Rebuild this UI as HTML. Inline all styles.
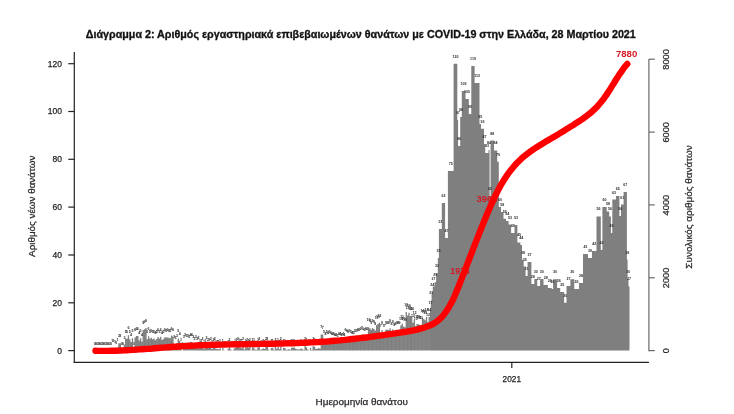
<!DOCTYPE html>
<html><head><meta charset="utf-8"><style>
html,body{margin:0;padding:0;background:#fff;}
svg{display:block;will-change:transform;}
text{font-family:'Liberation Sans', 'DejaVu Sans', sans-serif;}
</style></head><body>
<svg width="734" height="414" viewBox="0 0 734 414">
<rect width="734" height="414" fill="#fff"/>
<text x="85.8" y="37.6" font-weight="bold" font-size="10.3" fill="#111" stroke="#111" stroke-width="0.3" textLength="550" lengthAdjust="spacingAndGlyphs">Διάγραμμα 2: Αριθμός εργαστηριακά επιβεβαιωμένων θανάτων με COVID-19 στην Ελλάδα, 28 Μαρτίου 2021</text>
<path d="M430.80,350.6L430.80,300.4L431.60,300.4L431.60,292.2L432.80,292.2L432.80,286.4L434.50,286.4L434.50,282.3L436.10,282.3L436.10,273.3L437.80,273.3L437.80,258.0L438.90,258.0L438.90,229.0L441.80,229.0L441.80,203.0L445.10,203.0L445.10,238.0L447.90,238.0L447.90,171.0L453.60,171.0L453.60,63.7L457.30,63.7L457.30,120.0L458.10,120.0L458.10,146.0L460.20,146.0L460.20,117.0L461.80,117.0L461.80,91.0L465.50,91.0L465.50,99.0L468.80,99.0L468.80,114.0L471.30,114.0L471.30,66.0L474.60,66.0L474.60,83.0L479.50,83.0L479.50,124.0L481.00,124.0L481.00,128.7L484.00,128.7L484.00,144.0L485.20,144.0L485.20,153.0L488.50,153.0L488.50,150.0L489.60,150.0L489.60,196.0L490.60,196.0L490.60,140.6L494.00,140.6L494.00,150.4L497.20,150.4L497.20,161.8L498.80,161.8L498.80,207.0L501.00,207.0L501.00,212.0L503.50,212.0L503.50,218.7L506.00,218.7L506.00,221.0L508.60,221.0L508.60,224.6L511.10,224.6L511.10,233.0L514.50,233.0L514.50,225.0L517.40,225.0L517.40,242.4L520.40,242.4L520.40,245.0L522.00,245.0L522.00,259.8L523.70,259.8L523.70,266.5L525.60,266.5L525.60,276.0L527.60,276.0L527.60,262.0L531.40,262.0L531.40,284.0L534.30,284.0L534.30,279.0L537.20,279.0L537.20,286.0L540.10,286.0L540.10,279.0L543.50,279.0L543.50,285.0L547.90,285.0L547.90,288.0L551.70,288.0L551.70,289.0L553.10,289.0L553.10,279.2L557.10,279.2L557.10,288.0L560.20,288.0L560.20,292.0L564.10,292.0L564.10,302.8L566.50,302.8L566.50,286.0L570.40,286.0L570.40,279.2L574.30,279.2L574.30,289.0L579.00,289.0L579.00,283.0L583.00,283.0L583.00,254.0L588.00,254.0L588.00,258.0L592.00,258.0L592.00,251.0L596.50,251.0L596.50,216.4L600.80,216.4L600.80,250.0L602.40,250.0L602.40,207.1L606.70,207.1L606.70,211.4L609.20,211.4L609.20,216.4L610.90,216.4L610.90,233.0L612.30,233.0L612.30,199.5L616.00,199.5L616.00,196.1L619.40,196.1L619.40,216.0L621.00,216.0L621.00,204.6L623.60,204.6L623.60,191.9L626.90,191.9L626.90,259.6L627.60,259.6L627.60,279.0L628.50,279.0L628.50,286.4L629.50,286.4L629.50,350.6ZM111.56,350.6V348.04H112.87V350.6ZM112.91,350.6V348.26H114.22V350.6ZM114.25,350.6V348.47H115.56V350.6ZM115.60,350.6V349.76H116.91V350.6ZM116.95,350.6V347.27H118.26V350.6ZM118.30,350.6V343.15H119.61V350.6ZM119.65,350.6V343.31H120.96V350.6ZM123.70,350.6V344.50H125.01V350.6ZM125.05,350.6V338.61H126.36V350.6ZM126.40,350.6V338.81H127.71V350.6ZM127.74,350.6V335.14H129.05V350.6ZM129.09,350.6V339.24H130.40V350.6ZM130.44,350.6V341.99H131.75V350.6ZM131.79,350.6V338.21H133.10V350.6ZM134.49,350.6V337.40H135.80V350.6ZM135.84,350.6V336.07H137.15V350.6ZM137.19,350.6V336.04H138.50V350.6ZM138.54,350.6V340.44H139.85V350.6ZM139.89,350.6V338.28H141.19V350.6ZM141.24,350.6V341.55H142.54V350.6ZM142.58,350.6V330.00H143.89V350.6ZM143.93,350.6V329.15H145.24V350.6ZM145.28,350.6V328.05H146.59V350.6ZM146.63,350.6V339.26H147.94V350.6ZM147.98,350.6V336.20H149.29V350.6ZM149.33,350.6V338.73H150.64V350.6ZM150.68,350.6V337.87H151.99V350.6ZM152.03,350.6V339.31H153.34V350.6ZM153.38,350.6V338.57H154.68V350.6ZM154.72,350.6V340.18H156.03V350.6ZM156.07,350.6V338.92H157.38V350.6ZM157.42,350.6V336.93H158.73V350.6ZM158.77,350.6V338.61H160.08V350.6ZM160.12,350.6V336.83H161.43V350.6ZM161.47,350.6V339.95H162.78V350.6ZM162.82,350.6V339.02H164.13V350.6ZM164.17,350.6V337.18H165.48V350.6ZM165.52,350.6V337.55H166.83V350.6ZM166.87,350.6V337.41H168.17V350.6ZM168.22,350.6V337.77H169.52V350.6ZM169.56,350.6V338.14H170.87V350.6ZM170.91,350.6V335.54H172.22V350.6ZM172.26,350.6V336.59H173.57V350.6ZM173.61,350.6V344.26H174.92V350.6ZM174.96,350.6V344.52H176.27V350.6ZM176.31,350.6V343.08H177.62V350.6ZM177.66,350.6V338.42H178.97V350.6ZM179.01,350.6V340.76H180.32V350.6ZM180.36,350.6V347.31H181.66V350.6ZM183.05,350.6V343.93H184.36V350.6ZM184.40,350.6V342.44H185.71V350.6ZM185.75,350.6V343.04H187.06V350.6ZM187.10,350.6V342.74H188.41V350.6ZM188.45,350.6V343.84H189.76V350.6ZM189.80,350.6V341.65H191.11V350.6ZM191.15,350.6V341.93H192.46V350.6ZM192.50,350.6V344.38H193.81V350.6ZM193.85,350.6V345.72H195.15V350.6ZM195.20,350.6V344.26H196.50V350.6ZM196.54,350.6V345.75H197.85V350.6ZM197.89,350.6V345.24H199.20V350.6ZM199.24,350.6V348.26H200.55V350.6ZM200.59,350.6V347.79H201.90V350.6ZM201.94,350.6V346.11H203.25V350.6ZM203.29,350.6V349.05H204.60V350.6ZM204.64,350.6V347.62H205.95V350.6ZM205.99,350.6V345.33H207.30V350.6ZM207.34,350.6V346.78H208.64V350.6ZM208.69,350.6V347.33H209.99V350.6ZM210.03,350.6V346.39H211.34V350.6ZM211.38,350.6V349.08H212.69V350.6ZM212.73,350.6V346.91H214.04V350.6ZM214.08,350.6V346.26H215.39V350.6ZM215.43,350.6V348.84H216.74V350.6ZM216.78,350.6V348.96H218.09V350.6ZM218.13,350.6V349.16H219.44V350.6ZM219.48,350.6V348.17H220.79V350.6ZM222.18,350.6V347.89H223.48V350.6ZM223.52,350.6V350.19H224.83V350.6ZM224.87,350.6V350.43H226.18V350.6ZM227.57,350.6V348.48H228.88V350.6ZM228.92,350.6V346.91H230.23V350.6ZM230.27,350.6V349.50H231.58V350.6ZM232.97,350.6V349.56H234.28V350.6ZM234.32,350.6V347.63H235.62V350.6ZM235.67,350.6V347.17H236.97V350.6ZM237.01,350.6V346.38H238.32V350.6ZM238.36,350.6V347.05H239.67V350.6ZM239.71,350.6V347.86H241.02V350.6ZM241.06,350.6V348.16H242.37V350.6ZM242.41,350.6V346.21H243.72V350.6ZM243.76,350.6V349.50H245.07V350.6ZM245.11,350.6V347.49H246.42V350.6ZM246.46,350.6V346.87H247.77V350.6ZM247.81,350.6V347.81H249.11V350.6ZM249.16,350.6V346.74H250.46V350.6ZM250.50,350.6V350.27H251.81V350.6ZM251.85,350.6V347.17H253.16V350.6ZM253.20,350.6V347.41H254.51V350.6ZM254.55,350.6V349.52H255.86V350.6ZM255.90,350.6V349.67H257.21V350.6ZM257.25,350.6V347.38H258.56V350.6ZM258.60,350.6V346.29H259.91V350.6ZM259.95,350.6V349.77H261.26V350.6ZM261.30,350.6V349.24H262.61V350.6ZM262.64,350.6V348.15H263.95V350.6ZM263.99,350.6V349.12H265.30V350.6ZM265.34,350.6V346.36H266.65V350.6ZM266.69,350.6V346.06H268.00V350.6ZM268.04,350.6V349.58H269.35V350.6ZM270.74,350.6V347.91H272.05V350.6ZM272.09,350.6V347.85H273.40V350.6ZM273.44,350.6V350.07H274.75V350.6ZM274.79,350.6V346.47H276.09V350.6ZM276.13,350.6V348.66H277.44V350.6ZM277.48,350.6V347.06H278.79V350.6ZM278.83,350.6V349.16H280.14V350.6ZM280.18,350.6V346.44H281.49V350.6ZM281.53,350.6V350.18H282.84V350.6ZM282.88,350.6V347.77H284.19V350.6ZM284.23,350.6V347.96H285.54V350.6ZM285.58,350.6V349.79H286.89V350.6ZM286.93,350.6V349.86H288.24V350.6ZM288.28,350.6V348.94H289.58V350.6ZM289.62,350.6V349.79H290.93V350.6ZM290.97,350.6V347.66H292.28V350.6ZM292.32,350.6V347.60H293.63V350.6ZM293.67,350.6V347.54H294.98V350.6ZM295.02,350.6V348.82H296.33V350.6ZM296.37,350.6V349.23H297.68V350.6ZM297.72,350.6V349.62H299.03V350.6ZM299.07,350.6V349.21H300.38V350.6ZM300.42,350.6V348.43H301.73V350.6ZM301.77,350.6V349.08H303.07V350.6ZM303.12,350.6V350.03H304.42V350.6ZM304.46,350.6V346.02H305.77V350.6ZM305.81,350.6V347.24H307.12V350.6ZM307.16,350.6V349.54H308.47V350.6ZM309.86,350.6V348.05H311.17V350.6ZM311.21,350.6V349.88H312.52V350.6ZM312.56,350.6V346.13H313.87V350.6ZM313.91,350.6V346.77H315.22V350.6ZM315.26,350.6V348.89H316.56V350.6ZM316.61,350.6V348.65H317.91V350.6ZM317.95,350.6V347.89H319.26V350.6ZM319.30,350.6V348.81H320.61V350.6ZM320.65,350.6V334.39H321.96V350.6ZM322.00,350.6V334.46H323.31V350.6ZM323.35,350.6V339.35H324.66V350.6ZM324.70,350.6V341.22H326.01V350.6ZM326.05,350.6V339.15H327.36V350.6ZM327.40,350.6V340.29H328.71V350.6ZM328.75,350.6V338.96H330.06V350.6ZM330.09,350.6V339.92H331.40V350.6ZM331.44,350.6V340.49H332.75V350.6ZM332.79,350.6V341.25H334.10V350.6ZM334.14,350.6V342.11H335.45V350.6ZM335.49,350.6V341.75H336.80V350.6ZM336.84,350.6V342.53H338.15V350.6ZM338.19,350.6V340.92H339.50V350.6ZM339.54,350.6V340.78H340.85V350.6ZM340.89,350.6V341.56H342.20V350.6ZM342.24,350.6V341.02H343.55V350.6ZM343.58,350.6V341.64H344.89V350.6ZM344.93,350.6V337.14H346.24V350.6ZM346.28,350.6V337.46H347.59V350.6ZM347.63,350.6V338.66H348.94V350.6ZM348.98,350.6V337.69H350.29V350.6ZM350.33,350.6V339.22H351.64V350.6ZM351.68,350.6V340.12H352.99V350.6ZM353.03,350.6V339.70H354.34V350.6ZM354.38,350.6V338.03H355.69V350.6ZM355.73,350.6V338.37H357.04V350.6ZM357.07,350.6V337.39H358.38V350.6ZM358.42,350.6V337.16H359.73V350.6ZM359.77,350.6V335.79H361.08V350.6ZM361.12,350.6V334.69H362.43V350.6ZM362.47,350.6V335.66H363.78V350.6ZM363.82,350.6V336.47H365.13V350.6ZM365.17,350.6V336.39H366.48V350.6ZM366.52,350.6V336.33H367.83V350.6ZM367.87,350.6V327.27H369.18V350.6ZM369.22,350.6V328.36H370.52V350.6ZM370.56,350.6V329.69H371.87V350.6ZM371.91,350.6V327.98H373.22V350.6ZM373.26,350.6V328.96H374.57V350.6ZM374.61,350.6V330.59H375.92V350.6ZM375.96,350.6V325.35H377.27V350.6ZM377.31,350.6V324.05H378.62V350.6ZM378.66,350.6V322.65H379.97V350.6ZM380.01,350.6V332.94H381.32V350.6ZM381.36,350.6V330.10H382.67V350.6ZM382.71,350.6V332.91H384.01V350.6ZM384.05,350.6V332.87H385.36V350.6ZM385.40,350.6V329.70H386.71V350.6ZM386.75,350.6V329.53H388.06V350.6ZM388.10,350.6V329.99H389.41V350.6ZM389.45,350.6V328.32H390.76V350.6ZM390.80,350.6V331.23H392.11V350.6ZM392.15,350.6V329.35H393.46V350.6ZM393.50,350.6V331.76H394.81V350.6ZM394.85,350.6V330.47H396.16V350.6ZM396.20,350.6V329.47H397.50V350.6ZM397.54,350.6V330.39H398.85V350.6ZM398.89,350.6V329.58H400.20V350.6ZM400.24,350.6V325.56H401.55V350.6ZM401.59,350.6V323.69H402.90V350.6ZM402.94,350.6V326.43H404.25V350.6ZM404.29,350.6V327.31H405.60V350.6ZM405.64,350.6V311.98H406.95V350.6ZM406.99,350.6V315.38H408.30V350.6ZM408.34,350.6V312.72H409.65V350.6ZM409.69,350.6V316.11H411.00V350.6ZM411.03,350.6V316.27H412.34V350.6ZM412.38,350.6V322.82H413.69V350.6ZM413.73,350.6V320.00H415.04V350.6ZM415.08,350.6V325.97H416.39V350.6ZM416.43,350.6V324.04H417.74V350.6ZM417.78,350.6V324.19H419.09V350.6ZM419.13,350.6V324.63H420.44V350.6ZM420.48,350.6V325.20H421.79V350.6ZM421.83,350.6V317.82H423.14V350.6ZM423.18,350.6V319.12H424.49V350.6ZM424.52,350.6V320.31H425.83V350.6ZM425.87,350.6V316.81H427.18V350.6ZM427.22,350.6V322.02H428.53V350.6ZM428.57,350.6V316.98H429.88V350.6ZM429.92,350.6V309.99H430.78V350.6Z" fill="#7f7f7f"/>
<g font-size="3.6" fill="#2a2a2a" font-weight="bold" text-anchor="middle">
<text x="94.7" y="344.6">0</text><text x="96.0" y="344.6">0</text><text x="97.4" y="344.6">0</text><text x="98.7" y="344.6">0</text><text x="100.1" y="344.6">0</text><text x="101.4" y="344.6">0</text><text x="102.8" y="344.6">0</text><text x="104.1" y="344.6">0</text><text x="105.5" y="344.6">0</text><text x="106.8" y="344.6">0</text><text x="108.2" y="344.6">0</text><text x="109.5" y="344.6">0</text><text x="110.9" y="344.6">0</text><text x="112.2" y="342.0">1</text><text x="113.6" y="342.3">1</text><text x="114.9" y="342.5">1</text><text x="116.3" y="343.8">0</text><text x="117.6" y="341.3">1</text><text x="119.0" y="337.2">3</text><text x="120.3" y="337.3">3</text><text x="121.7" y="344.6">0</text><text x="123.0" y="344.6">0</text><text x="124.4" y="338.5">3</text><text x="125.7" y="332.6">5</text><text x="127.1" y="332.8">5</text><text x="128.4" y="329.1">6</text><text x="129.7" y="333.2">5</text><text x="131.1" y="336.0">4</text><text x="132.4" y="332.2">5</text><text x="133.8" y="344.6">0</text><text x="135.1" y="331.4">6</text><text x="136.5" y="330.1">6</text><text x="137.8" y="330.0">6</text><text x="139.2" y="334.4">4</text><text x="140.5" y="332.3">5</text><text x="141.9" y="335.5">4</text><text x="143.2" y="324.0">9</text><text x="144.6" y="323.1">9</text><text x="145.9" y="322.0">9</text><text x="147.3" y="333.3">5</text><text x="148.6" y="330.2">6</text><text x="150.0" y="332.7">5</text><text x="151.3" y="331.9">5</text><text x="152.7" y="333.3">5</text><text x="154.0" y="332.6">5</text><text x="155.4" y="334.2">4</text><text x="156.7" y="332.9">5</text><text x="158.1" y="330.9">6</text><text x="159.4" y="332.6">5</text><text x="160.8" y="330.8">6</text><text x="162.1" y="334.0">4</text><text x="163.5" y="333.0">5</text><text x="164.8" y="331.2">6</text><text x="166.2" y="331.5">5</text><text x="167.5" y="331.4">6</text><text x="168.9" y="331.8">5</text><text x="170.2" y="332.1">5</text><text x="171.6" y="329.5">6</text><text x="172.9" y="330.6">6</text><text x="174.3" y="338.3">3</text><text x="175.6" y="338.5">3</text><text x="177.0" y="337.1">3</text><text x="178.3" y="332.4">5</text><text x="179.7" y="334.8">4</text><text x="181.0" y="341.3">1</text><text x="182.4" y="344.6">0</text><text x="183.7" y="337.9">3</text><text x="185.1" y="336.4">3</text><text x="186.4" y="337.0">3</text><text x="187.8" y="336.7">3</text><text x="189.1" y="337.8">3</text><text x="190.5" y="335.6">4</text><text x="191.8" y="335.9">4</text><text x="193.2" y="338.4">3</text><text x="194.5" y="339.7">2</text><text x="195.8" y="338.3">3</text><text x="197.2" y="339.8">2</text><text x="198.5" y="339.2">2</text><text x="199.9" y="342.3">1</text><text x="201.2" y="341.8">1</text><text x="202.6" y="340.1">2</text><text x="203.9" y="343.1">1</text><text x="205.3" y="341.6">1</text><text x="206.6" y="339.3">2</text><text x="208.0" y="340.8">2</text><text x="209.3" y="341.3">1</text><text x="210.7" y="340.4">2</text><text x="212.0" y="343.1">1</text><text x="213.4" y="340.9">2</text><text x="214.7" y="340.3">2</text><text x="216.1" y="342.8">1</text><text x="217.4" y="343.0">1</text><text x="218.8" y="343.2">1</text><text x="220.1" y="342.2">1</text><text x="221.5" y="344.6">0</text><text x="222.8" y="341.9">1</text><text x="224.2" y="344.2">0</text><text x="225.5" y="344.4">0</text><text x="226.9" y="344.6">0</text><text x="228.2" y="342.5">1</text><text x="229.6" y="340.9">2</text><text x="230.9" y="343.5">0</text><text x="232.3" y="344.6">0</text><text x="233.6" y="343.6">0</text><text x="235.0" y="341.6">1</text><text x="236.3" y="341.2">1</text><text x="237.7" y="340.4">2</text><text x="239.0" y="341.1">1</text><text x="240.4" y="341.9">1</text><text x="241.7" y="342.2">1</text><text x="243.1" y="340.2">2</text><text x="244.4" y="343.5">0</text><text x="245.8" y="341.5">1</text><text x="247.1" y="340.9">2</text><text x="248.5" y="341.8">1</text><text x="249.8" y="340.7">2</text><text x="251.2" y="344.3">0</text><text x="252.5" y="341.2">1</text><text x="253.9" y="341.4">1</text><text x="255.2" y="343.5">0</text><text x="256.6" y="343.7">0</text><text x="257.9" y="341.4">1</text><text x="259.3" y="340.3">2</text><text x="260.6" y="343.8">0</text><text x="262.0" y="343.2">1</text><text x="263.3" y="342.1">1</text><text x="264.6" y="343.1">1</text><text x="266.0" y="340.4">2</text><text x="267.3" y="340.1">2</text><text x="268.7" y="343.6">0</text><text x="270.0" y="344.6">0</text><text x="271.4" y="341.9">1</text><text x="272.7" y="341.8">1</text><text x="274.1" y="344.1">0</text><text x="275.4" y="340.5">2</text><text x="276.8" y="342.7">1</text><text x="278.1" y="341.1">1</text><text x="279.5" y="343.2">1</text><text x="280.8" y="340.4">2</text><text x="282.2" y="344.2">0</text><text x="283.5" y="341.8">1</text><text x="284.9" y="342.0">1</text><text x="286.2" y="343.8">0</text><text x="287.6" y="343.9">0</text><text x="288.9" y="342.9">1</text><text x="290.3" y="343.8">0</text><text x="291.6" y="341.7">1</text><text x="293.0" y="341.6">1</text><text x="294.3" y="341.5">1</text><text x="295.7" y="342.8">1</text><text x="297.0" y="343.2">1</text><text x="298.4" y="343.6">0</text><text x="299.7" y="343.2">1</text><text x="301.1" y="342.4">1</text><text x="302.4" y="343.1">1</text><text x="303.8" y="344.0">0</text><text x="305.1" y="340.0">2</text><text x="306.5" y="341.2">1</text><text x="307.8" y="343.5">0</text><text x="309.2" y="344.6">0</text><text x="310.5" y="342.1">1</text><text x="311.9" y="343.9">0</text><text x="313.2" y="340.1">2</text><text x="314.6" y="340.8">2</text><text x="315.9" y="342.9">1</text><text x="317.3" y="342.6">1</text><text x="318.6" y="341.9">1</text><text x="320.0" y="342.8">1</text><text x="321.3" y="328.4">7</text><text x="322.7" y="328.5">7</text><text x="324.0" y="333.3">5</text><text x="325.4" y="335.2">4</text><text x="326.7" y="333.2">5</text><text x="328.1" y="334.3">4</text><text x="329.4" y="333.0">5</text><text x="330.7" y="333.9">4</text><text x="332.1" y="334.5">4</text><text x="333.4" y="335.2">4</text><text x="334.8" y="336.1">4</text><text x="336.1" y="335.7">4</text><text x="337.5" y="336.5">3</text><text x="338.8" y="334.9">4</text><text x="340.2" y="334.8">4</text><text x="341.5" y="335.6">4</text><text x="342.9" y="335.0">4</text><text x="344.2" y="335.6">4</text><text x="345.6" y="331.1">6</text><text x="346.9" y="331.5">6</text><text x="348.3" y="332.7">5</text><text x="349.6" y="331.7">5</text><text x="351.0" y="333.2">5</text><text x="352.3" y="334.1">4</text><text x="353.7" y="333.7">5</text><text x="355.0" y="332.0">5</text><text x="356.4" y="332.4">5</text><text x="357.7" y="331.4">6</text><text x="359.1" y="331.2">6</text><text x="360.4" y="329.8">6</text><text x="361.8" y="328.7">7</text><text x="363.1" y="329.7">6</text><text x="364.5" y="330.5">6</text><text x="365.8" y="330.4">6</text><text x="367.2" y="330.3">6</text><text x="368.5" y="321.3">10</text><text x="369.9" y="322.4">9</text><text x="371.2" y="323.7">9</text><text x="372.6" y="322.0">9</text><text x="373.9" y="323.0">9</text><text x="375.3" y="324.6">8</text><text x="376.6" y="319.3">11</text><text x="378.0" y="318.1">11</text><text x="379.3" y="316.7">12</text><text x="380.7" y="326.9">7</text><text x="382.0" y="324.1">9</text><text x="383.4" y="326.9">7</text><text x="384.7" y="326.9">7</text><text x="386.1" y="323.7">9</text><text x="387.4" y="323.5">9</text><text x="388.8" y="324.0">9</text><text x="390.1" y="322.3">9</text><text x="391.5" y="325.2">8</text><text x="392.8" y="323.3">9</text><text x="394.2" y="325.8">8</text><text x="395.5" y="324.5">8</text><text x="396.9" y="323.5">9</text><text x="398.2" y="324.4">8</text><text x="399.5" y="323.6">9</text><text x="400.9" y="319.6">10</text><text x="402.2" y="317.7">11</text><text x="403.6" y="320.4">10</text><text x="404.9" y="321.3">10</text><text x="406.3" y="306.0">16</text><text x="407.6" y="309.4">15</text><text x="409.0" y="306.7">16</text><text x="410.3" y="310.1">14</text><text x="411.7" y="310.3">14</text><text x="413.0" y="316.8">12</text><text x="414.4" y="314.0">13</text><text x="415.7" y="320.0">10</text><text x="417.1" y="318.0">11</text><text x="418.4" y="318.2">11</text><text x="419.8" y="318.6">11</text><text x="421.1" y="319.2">11</text><text x="422.5" y="311.8">14</text><text x="423.8" y="313.1">13</text><text x="425.2" y="314.3">13</text><text x="426.5" y="310.8">14</text><text x="427.9" y="316.0">12</text><text x="429.2" y="311.0">14</text><text x="430.4" y="304.0">17</text><text x="431.2" y="294.4">21</text><text x="432.2" y="286.2">24</text><text x="433.6" y="280.4">27</text><text x="435.3" y="276.3">29</text><text x="437.0" y="267.3">32</text><text x="438.4" y="252.0">39</text><text x="440.4" y="223.0">51</text><text x="443.5" y="197.0">62</text><text x="446.5" y="232.0">47</text><text x="450.8" y="165.0">75</text><text x="455.5" y="57.7">120</text><text x="457.7" y="114.0">97</text><text x="459.1" y="140.0">86</text><text x="461.0" y="111.0">98</text><text x="463.6" y="85.0">109</text><text x="467.1" y="93.0">105</text><text x="470.1" y="108.0">99</text><text x="473.0" y="60.0">119</text><text x="477.1" y="77.0">112</text><text x="480.2" y="118.0">95</text><text x="482.5" y="122.7">93</text><text x="484.6" y="138.0">87</text><text x="486.9" y="147.0">83</text><text x="489.1" y="144.0">84</text><text x="490.1" y="190.0">65</text><text x="492.3" y="134.6">88</text><text x="495.6" y="144.4">84</text><text x="498.0" y="155.8">79</text><text x="499.9" y="201.0">60</text><text x="502.2" y="206.0">58</text><text x="504.8" y="212.7">55</text><text x="507.3" y="215.0">54</text><text x="509.9" y="218.6">53</text><text x="512.8" y="227.0">49</text><text x="516.0" y="219.0">53</text><text x="518.9" y="236.4">45</text><text x="521.2" y="239.0">44</text><text x="522.9" y="253.8">38</text><text x="524.7" y="260.5">35</text><text x="526.6" y="270.0">31</text><text x="529.5" y="256.0">37</text><text x="532.8" y="278.0">28</text><text x="535.8" y="273.0">30</text><text x="538.7" y="280.0">27</text><text x="541.8" y="273.0">30</text><text x="545.7" y="279.0">28</text><text x="549.8" y="282.0">26</text><text x="552.4" y="283.0">26</text><text x="555.1" y="273.2">30</text><text x="558.7" y="282.0">26</text><text x="562.2" y="286.0">25</text><text x="565.3" y="296.8">20</text><text x="568.5" y="280.0">27</text><text x="572.3" y="273.2">30</text><text x="576.6" y="283.0">26</text><text x="581.0" y="277.0">28</text><text x="585.5" y="248.0">41</text><text x="590.0" y="252.0">39</text><text x="594.2" y="245.0">42</text><text x="598.6" y="210.4">56</text><text x="601.6" y="244.0">42</text><text x="604.5" y="201.1">60</text><text x="608.0" y="205.4">58</text><text x="610.0" y="210.4">56</text><text x="611.6" y="227.0">49</text><text x="614.1" y="193.5">63</text><text x="617.7" y="190.1">65</text><text x="620.2" y="210.0">56</text><text x="622.3" y="198.6">61</text><text x="625.2" y="185.9">67</text><text x="627.2" y="253.6">38</text><text x="628.0" y="273.0">30</text><text x="629.0" y="280.4">27</text>
</g>
<g font-weight="bold" fill="#d41824" font-size="8.6" text-anchor="middle">
<text x="626.6" y="57.0" textLength="21.3" lengthAdjust="spacingAndGlyphs">7880</text>
<text x="460.0" y="273.8" textLength="19.3" lengthAdjust="spacingAndGlyphs">1976</text>
<text x="487.0" y="201.8" textLength="21.0" lengthAdjust="spacingAndGlyphs">3965</text>
</g>
<path d="M95.5,350.8 98.2,350.9 100.8,350.9 103.3,350.9 105.9,350.9 108.5,350.9 111.1,350.8 113.7,350.8 116.3,350.7 118.9,350.6 121.5,350.5 124.1,350.4 126.7,350.2 129.2,350.1 131.8,349.9 134.4,349.8 137.0,349.6 139.6,349.4 142.2,349.2 144.8,349.0 147.4,348.9 150.0,348.7 152.6,348.5 155.2,348.2 157.8,348.0 160.4,347.8 163.0,347.6 165.6,347.4 168.2,347.2 170.8,347.0 173.4,346.8 176.0,346.7 178.6,346.5 181.2,346.3 183.8,346.1 186.4,346.0 189.0,345.8 191.6,345.7 194.2,345.6 196.8,345.4 199.4,345.3 202.0,345.2 204.6,345.1 207.2,345.0 209.8,344.9 212.4,344.8 215.1,344.8 217.7,344.7 220.3,344.6 222.9,344.6 225.5,344.5 228.1,344.4 230.7,344.4 233.3,344.3 235.9,344.3 238.5,344.3 241.1,344.2 243.7,344.2 246.3,344.1 248.9,344.1 251.5,344.0 254.1,344.0 256.7,344.0 259.3,343.9 261.9,343.9 264.5,343.8 267.1,343.8 269.7,343.8 272.3,343.7 274.9,343.7 277.5,343.6 280.1,343.5 282.7,343.5 285.3,343.4 287.9,343.3 290.5,343.3 293.0,343.2 295.6,343.1 298.2,343.0 300.8,342.9 303.4,342.8 306.0,342.7 308.6,342.5 311.2,342.4 313.8,342.3 316.4,342.1 319.0,342.0 321.5,341.8 324.1,341.6 326.7,341.5 329.3,341.3 331.9,341.0 334.5,340.8 337.0,340.6 339.6,340.4 342.2,340.1 344.8,339.9 347.4,339.6 349.9,339.3 352.5,339.0 355.1,338.7 357.7,338.4 360.3,338.1 362.9,337.8 365.4,337.5 368.0,337.2 370.6,336.8 373.2,336.5 375.8,336.1 378.4,335.8 380.9,335.4 383.5,335.1 386.1,334.7 388.7,334.3 391.3,333.9 393.9,333.6 396.5,333.2 399.1,332.8 401.7,332.4 404.3,332.0 406.9,331.6 409.5,331.1 412.1,330.6 414.6,330.1 417.2,329.6 419.7,328.9 422.2,328.2 424.6,327.5 427.1,326.6 429.4,325.7 431.8,324.6 434.1,323.4 436.3,321.9 438.3,320.3 440.3,318.6 442.1,316.7 443.8,314.7 445.3,312.7 446.8,310.5 448.2,308.3 449.6,306.1 450.8,303.8 452.0,301.5 453.2,299.2 454.3,296.8 455.3,294.4 456.3,292.0 457.3,289.6 458.3,287.2 459.3,284.8 460.2,282.4 461.2,279.9 462.1,277.5 463.0,275.1 464.0,272.7 464.9,270.3 465.9,267.8 466.8,265.4 467.7,263.0 468.7,260.6 469.6,258.1 470.5,255.7 471.5,253.3 472.4,250.9 473.3,248.5 474.3,246.0 475.2,243.6 476.2,241.2 477.1,238.8 478.1,236.4 479.0,233.9 480.0,231.5 481.0,229.1 481.9,226.7 482.9,224.3 483.9,221.8 484.9,219.4 485.9,217.0 486.9,214.6 487.9,212.2 488.9,209.8 490.0,207.4 491.0,205.0 492.1,202.6 493.2,200.2 494.3,197.8 495.4,195.5 496.6,193.2 497.8,190.8 499.0,188.5 500.2,186.3 501.5,184.0 502.8,181.8 504.2,179.6 505.6,177.5 507.0,175.3 508.5,173.2 510.0,171.2 511.6,169.2 513.2,167.2 514.9,165.2 516.7,163.3 518.5,161.5 520.3,159.7 522.2,157.9 524.2,156.2 526.3,154.6 528.4,153.0 530.5,151.4 532.7,149.9 534.9,148.4 537.1,147.0 539.4,145.6 541.6,144.2 543.9,142.8 546.1,141.4 548.4,140.1 550.6,138.8 552.8,137.5 555.0,136.2 557.2,134.9 559.3,133.6 561.5,132.3 563.7,131.0 565.8,129.6 568.0,128.3 570.2,126.9 572.3,125.6 574.5,124.2 576.7,122.7 579.0,121.3 581.2,119.8 583.4,118.3 585.6,116.7 587.7,115.1 589.8,113.4 591.9,111.7 593.8,109.9 595.7,108.1 597.5,106.2 599.2,104.3 600.9,102.3 602.5,100.3 604.0,98.3 605.5,96.2 606.9,94.1 608.4,91.9 609.8,89.8 611.1,87.6 612.5,85.4 613.9,83.2 615.2,81.0 616.6,78.8 618.0,76.6 619.4,74.4 620.9,72.3 622.4,70.1 623.9,68.0 625.5,65.9 627.3,64.0" fill="none" stroke="#ff0000" stroke-width="6.4" stroke-linecap="round" stroke-linejoin="round"/>
<g stroke="#222" stroke-width="1.2" fill="none">
<line x1="74.3" y1="51.9" x2="74.3" y2="362.9"/>
<line x1="73.7" y1="362.3" x2="648.9" y2="362.3"/>
<line x1="511.8" y1="362.3" x2="511.8" y2="367.9"/>
<line x1="68.3" y1="350.6" x2="74.3" y2="350.6"/><line x1="68.3" y1="302.8" x2="74.3" y2="302.8"/><line x1="68.3" y1="255.0" x2="74.3" y2="255.0"/><line x1="68.3" y1="207.1" x2="74.3" y2="207.1"/><line x1="68.3" y1="159.3" x2="74.3" y2="159.3"/><line x1="68.3" y1="111.5" x2="74.3" y2="111.5"/><line x1="68.3" y1="63.7" x2="74.3" y2="63.7"/>
</g>
<g stroke="#6a6a6a" stroke-width="1.2" fill="none">
<line x1="648.9" y1="58.9" x2="648.9" y2="351.2"/>
<line x1="648.9" y1="350.6" x2="654.8" y2="350.6"/><line x1="648.9" y1="277.8" x2="654.8" y2="277.8"/><line x1="648.9" y1="204.9" x2="654.8" y2="204.9"/><line x1="648.9" y1="132.1" x2="654.8" y2="132.1"/><line x1="648.9" y1="59.2" x2="654.8" y2="59.2"/>
</g>
<g font-size="9.3" fill="#222" stroke="#222" stroke-width="0.25">
<text x="61.9" y="353.5" text-anchor="end" textLength="4.72" lengthAdjust="spacingAndGlyphs">0</text><text x="61.9" y="305.7" text-anchor="end" textLength="9.44" lengthAdjust="spacingAndGlyphs">20</text><text x="61.9" y="257.9" text-anchor="end" textLength="9.44" lengthAdjust="spacingAndGlyphs">40</text><text x="61.9" y="210.0" text-anchor="end" textLength="9.44" lengthAdjust="spacingAndGlyphs">60</text><text x="61.9" y="162.2" text-anchor="end" textLength="9.44" lengthAdjust="spacingAndGlyphs">80</text><text x="61.9" y="114.4" text-anchor="end" textLength="14.16" lengthAdjust="spacingAndGlyphs">100</text><text x="61.9" y="66.6" text-anchor="end" textLength="14.16" lengthAdjust="spacingAndGlyphs">120</text>
</g>
<g font-size="9" fill="#2a2a2a" stroke="#2a2a2a" stroke-width="0.25">
<text transform="translate(668.8,350.8) rotate(-90)" text-anchor="middle">0</text><text transform="translate(668.8,277.9) rotate(-90)" text-anchor="middle" textLength="20.6" lengthAdjust="spacingAndGlyphs">2000</text><text transform="translate(668.8,205.1) rotate(-90)" text-anchor="middle" textLength="20.6" lengthAdjust="spacingAndGlyphs">4000</text><text transform="translate(668.8,132.3) rotate(-90)" text-anchor="middle" textLength="20.6" lengthAdjust="spacingAndGlyphs">6000</text><text transform="translate(668.8,59.4) rotate(-90)" text-anchor="middle" textLength="20.6" lengthAdjust="spacingAndGlyphs">8000</text>
</g>
<text x="511.8" y="382.4" font-size="8.8" fill="#222" stroke="#222" stroke-width="0.25" text-anchor="middle" textLength="18.4" lengthAdjust="spacingAndGlyphs">2021</text>
<text x="361.7" y="404.8" font-size="9.4" fill="#2a2a2a" stroke="#2a2a2a" stroke-width="0.25" text-anchor="middle" textLength="92.4" lengthAdjust="spacingAndGlyphs">Ημερομηνία θανάτου</text>
<text transform="translate(35.2,206.3) rotate(-90)" font-size="9.4" fill="#2a2a2a" stroke="#2a2a2a" stroke-width="0.25" text-anchor="middle" textLength="101.2" lengthAdjust="spacingAndGlyphs">Αριθμός νέων θανάτων</text>
<text transform="translate(691.9,206.9) rotate(-90)" font-size="9.4" fill="#2a2a2a" stroke="#2a2a2a" stroke-width="0.25" text-anchor="middle" textLength="123.5" lengthAdjust="spacingAndGlyphs">Συνολικός αριθμός θανάτων</text>

</svg>
</body></html>
